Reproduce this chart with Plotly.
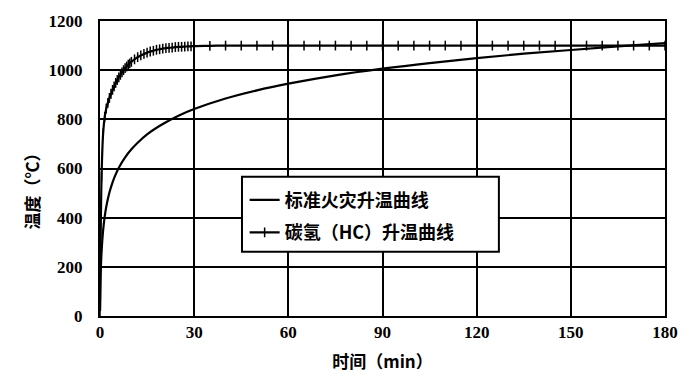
import plotly.graph_objects as go

# Standard fire curve
std_t = [0, 0.25, 0.5, 1, 1.5, 2, 3, 4, 5, 6, 8, 10, 12, 15, 20, 25, 30, 40, 50, 60,
         75, 90, 105, 120, 135, 150, 165, 180]
std_T = [20, 185, 261, 349, 404, 445, 502, 544, 576, 603, 645, 678, 705, 739, 781, 815,
         842, 885, 918, 945, 979, 1006, 1029, 1049, 1067, 1082, 1097, 1110]

# Hydrocarbon (HC) curve
hc_t = [0, 0.5, 1, 1.5, 2, 2.5, 3, 3.5, 4, 4.5, 5, 5.5, 6, 6.5, 7, 7.5, 8, 8.5, 9, 9.5, 10,
        11, 12, 13, 14, 15, 16, 17, 18, 19, 20, 21, 22, 23, 24, 25, 26, 27, 28, 29, 30,
        35, 40, 45, 50, 55, 60, 65, 70, 75, 80, 85, 90, 95, 100, 105, 110, 115, 120,
        125, 130, 135, 140, 145, 150, 155, 160, 165, 170, 175, 180]
hc_T = [20, 568, 743, 810, 844, 867, 887, 904, 920, 934, 948, 960, 971, 981, 991, 1000,
        1008, 1015, 1022, 1028, 1034,
        1044, 1053, 1060, 1066, 1071, 1076, 1079, 1083, 1085, 1088, 1090, 1091, 1092, 1094,
        1095, 1095, 1096, 1097, 1097, 1098,
        1099, 1100, 1100, 1100, 1100, 1100, 1100, 1100, 1100, 1100, 1100, 1100, 1100, 1100,
        1100, 1100, 1100, 1100, 1100, 1100, 1100, 1100, 1100, 1100, 1100, 1100, 1100, 1100,
        1100, 1100]

x_ticks = [0, 30, 60, 90, 120, 150, 180]
y_ticks = [0, 200, 400, 600, 800, 1000, 1200]

cjk = "Noto Sans CJK SC"
serif = "Liberation Serif"

fig = go.Figure()
fig.add_trace(go.Scatter(
    x=std_t, y=std_T, mode="lines", name="标准火灾升温曲线", legendgroup="a",
    line=dict(color="black", width=2.2, shape="spline"),
))
fig.add_trace(go.Scatter(
    x=hc_t, y=hc_T, mode="lines+markers", name="碳氢（HC）升温曲线", legendgroup="b",
    line=dict(color="black", width=2.2, shape="spline"),
    marker=dict(symbol="line-ns", size=7, line=dict(color="black", width=1.5)),
))

# legend frame
fig.add_shape(type="rect", xref="paper", yref="paper",
              x0=0.2513, x1=0.706, y0=0.218, y1=0.472,
              fillcolor="white", line=dict(color="black", width=2), layer="above")

# y-axis title
fig.add_annotation(text="<b>温度（℃）</b>", xref="paper", yref="paper",
                   x=-0.1204, y=0.439, xanchor="center", yanchor="middle",
                   textangle=-90, showarrow=False,
                   font=dict(family=cjk, size=17, color="black"))

fig.update_layout(
    width=695, height=381,
    margin=dict(l=100, r=30, t=13, b=65),
    paper_bgcolor="white", plot_bgcolor="white",
    font=dict(family=serif, color="black"),
    showlegend=True,
    legend=dict(
        x=0.256, y=0.455, xanchor="left", yanchor="top",
        bgcolor="rgba(0,0,0,0)", borderwidth=0,
        font=dict(family=cjk, size=18, color="black", weight="bold"),
        itemwidth=30, traceorder="grouped", tracegroupgap=6,
    ),
    xaxis=dict(
        range=[0, 180], tickvals=x_ticks, ticktext=["<b>%d</b>" % v for v in x_ticks],
        showgrid=True, gridcolor="black", gridwidth=2,
        showline=True, linecolor="black", linewidth=2, mirror=True,
        zeroline=False, ticks="",
        tickfont=dict(family=serif, size=17, color="black"),
        title=dict(text="<b>时间（min）</b>", font=dict(family=cjk, size=17, color="black")),
    ),
    yaxis=dict(
        range=[0, 1200], tickvals=y_ticks, ticktext=["<b>%d</b>" % v for v in y_ticks],
        showgrid=True, gridcolor="black", gridwidth=2,
        showline=True, linecolor="black", linewidth=2, mirror=True,
        zeroline=False, ticks="", ticklabelstandoff=12,
        tickfont=dict(family=serif, size=17, color="black"),
    ),
)

fig.write_html("out.html")
